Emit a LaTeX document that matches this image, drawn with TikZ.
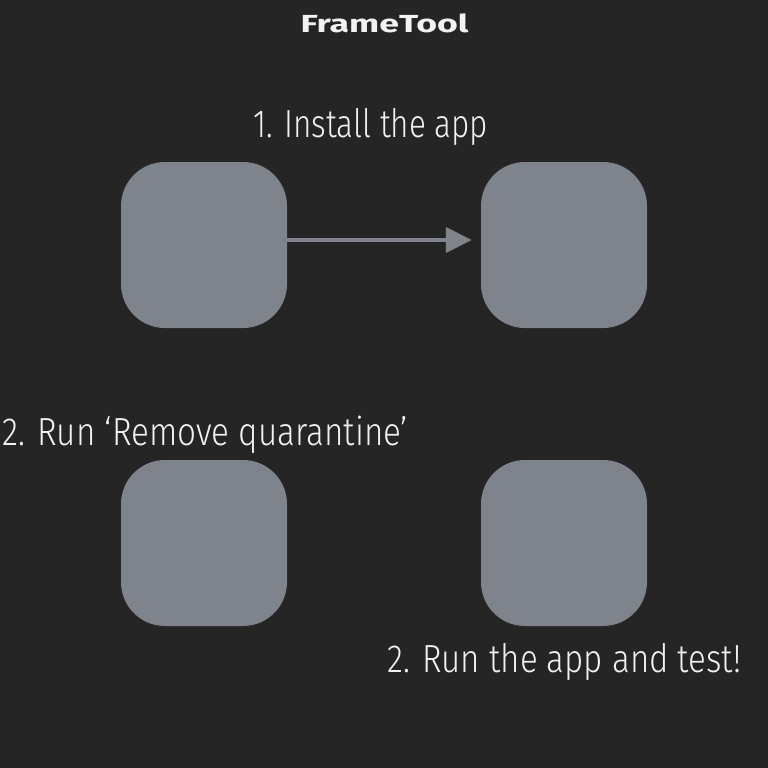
\documentclass[tikz,border=0pt]{standalone}
\usepackage{fontspec}
\usepackage{graphicx}
\setmainfont{Fira Sans}[UprightFont=* Light, BoldFont=* Bold]
\usetikzlibrary{arrows.meta}
\definecolor{bgc}{HTML}{252525}
\definecolor{boxc}{HTML}{7F848C}
\definecolor{txtc}{HTML}{F2F2F2}
\newcommand{\fitlabel}[3]{\resizebox{#1}{#2}{\raisebox{0pt}[0.689em][0pt]{#3}}}
\begin{document}
\begin{tikzpicture}[x=1pt,y=-1pt,
  appbox/.style={fill=boxc,draw=none,minimum size=166pt,inner sep=0pt,rounded corners=44pt},
  lbl/.style={inner sep=0pt,text=txtc,anchor=base west,font=\fontsize{36}{40}\selectfont},
  flow/.style={draw=boxc,line width=4pt,-{Triangle[length=26pt,width=25pt]},shorten >=9pt}]
\fill[bgc] (0,0) rectangle (768,768);
\useasboundingbox (0,0) rectangle (768,768);
\node[inner sep=0pt,text=txtc,anchor=base,font=\fontsize{24}{28}\selectfont\bfseries] (title) at (384.5,33) {\fitlabel{168pt}{17pt}{FrameTool}};
\node[lbl] (l1) at (253,137) {\fitlabel{235pt}{27pt}{1. Install the app}};
\node[lbl] (l2) at (2,445) {\fitlabel{406pt}{27pt}{2. Run ‘Remove quarantine’}};
\node[lbl] (l3) at (387,672) {\fitlabel{354pt}{27pt}{2. Run the app and test!}};
\node[appbox] (b1) at (204,245) {};
\node[appbox] (b2) at (564,245) {};
\node[appbox] (b3) at (204,543) {};
\node[appbox] (b4) at (564,543) {};
\draw[flow] (b1.east |- 0,240) coordinate (s) -- (b2.west |- s);
\end{tikzpicture}
\end{document}
